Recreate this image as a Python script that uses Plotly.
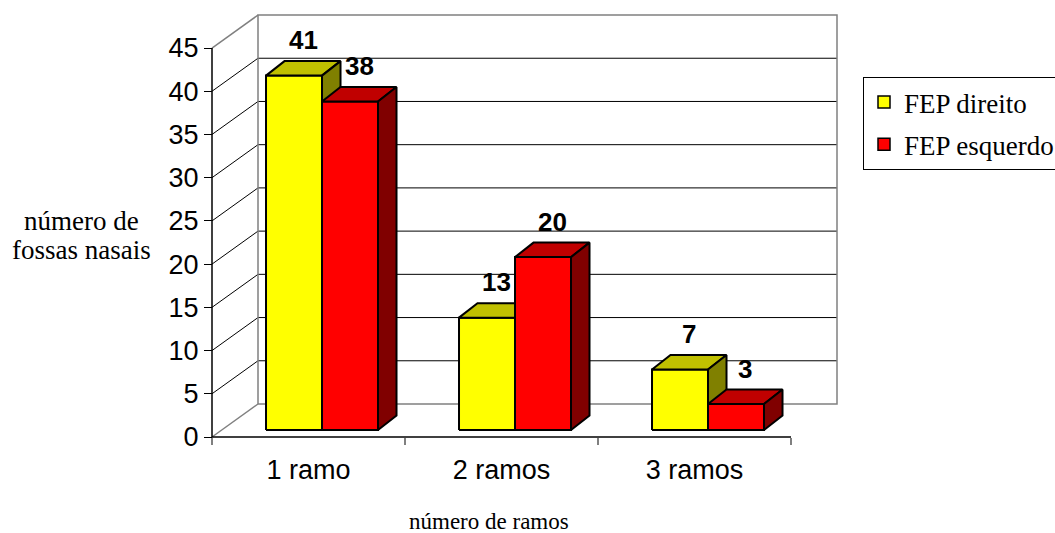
import plotly.graph_objects as go

# ---------------- data ----------------
categories = ["1 ramo", "2 ramos", "3 ramos"]
fep_direito = [41, 13, 7]
fep_esquerdo = [38, 20, 3]
series_names = ["FEP direito", "FEP esquerdo"]
y_ticks = [0, 5, 10, 15, 20, 25, 30, 35, 40, 45]
y_title_lines = ["número de", "fossas nasais"]
x_title = "número de ramos"

# ---------------- layout geometry ----------------
W_FIG, H_FIG = 1055, 533
ML, MR, MT, MB = 208, 158, 14, 93
PLOT_W = W_FIG - ML - MR
PLOT_H = H_FIG - MT - MB
PX_X = 193.0          # pixels per category
PX_Y = 8.644          # pixels per value unit
ORIGIN_X_PX, ORIGIN_Y_PX = 212, 437
X0 = (ML - ORIGIN_X_PX) / PX_X
X1 = X0 + PLOT_W / PX_X
Y0 = (ORIGIN_Y_PX - (MT + PLOT_H)) / PX_Y
Y1 = Y0 + PLOT_H / PX_Y

NCAT = len(categories)
YMAX = y_ticks[-1]
# back-wall depth offset (data units)
BX, BY = 46 / PX_X, 33 / PX_Y
# bars
BW = 56 / PX_X                       # bar width
FX, FY = 0.07, 7 / PX_Y              # bar front-plane shift
DDX, DDY = 18.5 / PX_X, 14.5 / PX_Y  # bar depth

series = [
    dict(name=series_names[0], vals=fep_direito, front="#FFFF00", top="#C0C000", side="#808000"),
    dict(name=series_names[1], vals=fep_esquerdo, front="#FF0000", top="#C00000", side="#800000"),
]

GRID_COLOR = "#000000"
WALL_COLOR = "#808080"

fig = go.Figure()

def seg_trace(xs, ys, color, width):
    return go.Scatter(x=xs, y=ys, mode="lines", line=dict(color=color, width=width),
                      hoverinfo="skip", showlegend=False)

# back wall gridlines and left wall diagonals (black)
gx, gy, dx_, dy_ = [], [], [], []
for v in y_ticks[1:-1]:
    gx += [BX, BX + NCAT, None]
    gy += [v + BY, v + BY, None]
    dx_ += [0, BX, None]
    dy_ += [v, v + BY, None]
fig.add_trace(seg_trace(gx, gy, GRID_COLOR, 1))
fig.add_trace(seg_trace(dx_, dy_, GRID_COLOR, 1))

# wall border (gray)
wx = [BX, BX + NCAT, BX + NCAT, BX, BX, None, 0, BX, None, 0, BX]
wy = [BY, BY, YMAX + BY, YMAX + BY, BY, None, 0, BY, None, YMAX, YMAX + BY]
fig.add_trace(seg_trace(wx, wy, WALL_COLOR, 1.5))

# front axes lines
fig.add_trace(seg_trace([0, NCAT], [0, 0], "#000000", 1.5))
fig.add_trace(seg_trace([0, 0], [0, YMAX], "#000000", 1.5))

# bars (3D faces)
def poly_trace(polys, color):
    xs, ys = [], []
    for p in polys:
        for (a, b) in p + [p[0]]:
            xs.append(a)
            ys.append(b)
        xs.append(None)
        ys.append(None)
    return go.Scatter(x=xs, y=ys, mode="lines", fill="toself", fillcolor=color,
                      line=dict(color="#000000", width=2), hoverinfo="skip",
                      showlegend=False)

annotations = []
for s_i, s in enumerate(series):
    fronts, tops, sides = [], [], []
    for c_i, v in enumerate(s["vals"]):
        xl = c_i + 0.5 - BW + FX + s_i * BW
        fronts.append([(xl, FY), (xl + BW, FY), (xl + BW, v + FY), (xl, v + FY)])
        tops.append([(xl, v + FY), (xl + BW, v + FY), (xl + BW + DDX, v + FY + DDY), (xl + DDX, v + FY + DDY)])
        sides.append([(xl + BW, FY), (xl + BW + DDX, FY + DDY), (xl + BW + DDX, v + FY + DDY), (xl + BW, v + FY)])
        annotations.append(dict(x=xl + BW / 2 + DDX / 2, y=v + FY + DDY, xref="x", yref="y",
                                text=str(v), showarrow=False, xanchor="center",
                                yanchor="middle", yshift=21,
                                font=dict(family="Liberation Sans, Arial", size=26, color="#000000",
                                          weight="bold")))
    fig.add_trace(poly_trace(fronts, s["front"]))
    fig.add_trace(poly_trace(tops, s["top"]))
    fig.add_trace(poly_trace(sides, s["side"]))

# legend entries
for s in series:
    fig.add_trace(go.Bar(x=[None], y=[None], name=s["name"],
                         marker=dict(color=s["front"], line=dict(color="#000000", width=1.5)),
                         legendgroup=s["name"]))

# invisible trace for the tick-mark axis
fig.add_trace(go.Scatter(x=[0], y=[0], xaxis="x2", mode="markers", marker=dict(opacity=0),
                         hoverinfo="skip", showlegend=False))

def paper_x(px):
    return (px - ML) / PLOT_W

def paper_y(py):
    return (MT + PLOT_H - py) / PLOT_H

axis_pos_y = paper_y(ORIGIN_Y_PX)
axis_pos_x = paper_x(ORIGIN_X_PX)

# titles
serif = "Liberation Serif, Times New Roman"
annotations.append(dict(x=paper_x(82), y=paper_y(221), xref="paper", yref="paper",
                        text=y_title_lines[0], showarrow=False, xanchor="center", yanchor="middle",
                        font=dict(family=serif, size=27, color="#000000")))
annotations.append(dict(x=paper_x(82), y=paper_y(250), xref="paper", yref="paper",
                        text=y_title_lines[1], showarrow=False, xanchor="center", yanchor="middle",
                        font=dict(family=serif, size=27, color="#000000")))
annotations.append(dict(x=paper_x(489), y=paper_y(521), xref="paper", yref="paper",
                        text=x_title, showarrow=False, xanchor="center", yanchor="middle",
                        font=dict(family=serif, size=23, color="#000000")))

sans = "Liberation Sans, Arial"
fig.update_layout(
    width=W_FIG, height=H_FIG,
    margin=dict(l=ML, r=MR, t=MT, b=MB, autoexpand=False),
    paper_bgcolor="#FFFFFF", plot_bgcolor="#FFFFFF",
    xaxis=dict(range=[X0, X1], tickvals=[i + 0.5 for i in range(NCAT)], ticktext=categories,
               ticks="outside", ticklen=9, tickcolor="rgba(0,0,0,0)",
               showgrid=False, zeroline=False, showline=False,
               anchor="free", position=axis_pos_y,
               tickfont=dict(family=sans, size=27, color="#000000")),
    xaxis2=dict(overlaying="x", matches="x", range=[X0, X1],
                tickvals=list(range(NCAT + 1)), ticks="outside", ticklen=7, tickwidth=1.5,
                tickcolor=WALL_COLOR, showticklabels=False, showgrid=False,
                zeroline=False, showline=False, anchor="free", position=axis_pos_y),
    yaxis=dict(range=[Y0, Y1], tickvals=y_ticks, ticks="outside", ticklen=8, tickcolor="#000000",
               showgrid=False, zeroline=False, showline=False,
               anchor="free", position=axis_pos_x,
               tickfont=dict(family=sans, size=27, color="#000000")),
    legend=dict(xref="container", yref="container", x=863 / W_FIG, y=1 - 77 / H_FIG,
                xanchor="left", yanchor="top", bordercolor="#000000", borderwidth=1,
                bgcolor="#FFFFFF", font=dict(family=serif, size=27, color="#000000"),
                tracegroupgap=4),
    annotations=annotations,
    showlegend=True,
)

fig.write_html("out.html")
